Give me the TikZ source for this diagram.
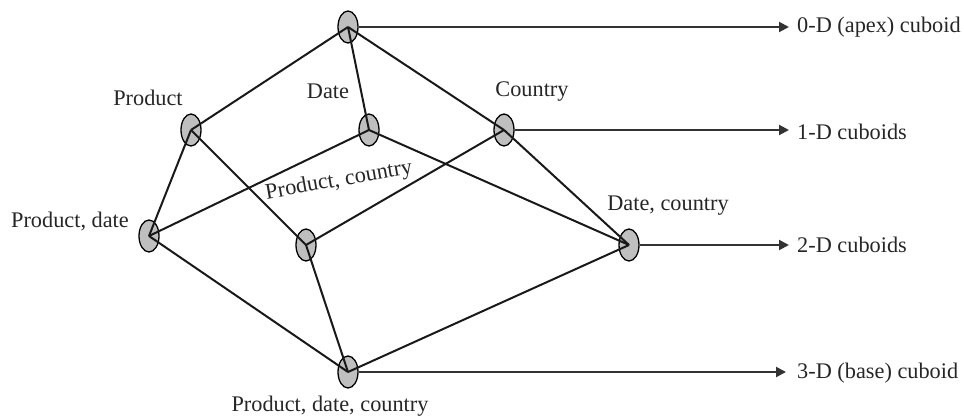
\documentclass[tikz,border=0pt]{standalone}
\usepackage{fontspec}
\setmainfont{Liberation Serif}
\usetikzlibrary{arrows.meta,shapes.geometric}
\tikzset{
    vertex/.style={ellipse,draw,fill=gray!50,minimum width=20pt,minimum height=32pt,inner sep=0pt,line width=1.3pt},
    edge/.style={-, draw=black!90, line width=2pt},
    level/.style={->,> = {Triangle[length=10pt,width=10pt]}, draw=black!80, line width=2pt},
    lbl/.style={font=\fontsize{22.3}{26}\selectfont, text=black!85, inner sep=0pt},
}
\begin{document}
\begin{tikzpicture}[x=1pt,y=-1pt]
    \useasboundingbox (0,0) rectangle (964,418);
    \node[vertex] (0) at (348,27) {};
    \node[vertex] (p) at (191,130) {};
    \node[vertex] (d) at (369,130) {};
    \node[vertex] (c) at (504,130) {};
    \node[vertex] (pd) at (149,236) {};
    \node[vertex] (pc) at (306,245) {};
    \node[vertex] (dc) at (629,245) {};
    \node[vertex] (pdc) at (348,372) {};
    \draw[edge] (0.center) --(p.center);
    \draw[edge] (0.center) --(d.center);
    \draw[edge] (0.center) --(c.center);
    \draw[edge] (p.center) --(pd.center);
    \draw[edge] (p.center) --(pc.center);
    \draw[edge] (d.center) --(pd.center);
    \draw[edge] (d.center) --(dc.center);
    \draw[edge] (c.center) --(pc.center);
    \draw[edge] (c.center) --(dc.center);
    \draw[edge] (pd.center) --(pdc.center);
    \draw[edge] (pc.center) --(pdc.center);
    \draw[edge] (dc.center) --(pdc.center);
    \node[lbl] (lp) at (148,98) {Product};
    \node[lbl] (ld) at (328,91) {Date};
    \node[lbl] (lc) at (532,92) {Country};
    \node[lbl,rotate=10] (lpc) at (339,181) {Product, country};
    \node[lbl] (lpd) at (70,221) {Product, date};
    \node[lbl] (ldc) at (668,206) {Date, country};
    \node[lbl] (lpdc) at (330,406) {Product, date, country};
    \coordinate (e0) at (789,27);
    \coordinate (e1) at (789,130);
    \coordinate (e2) at (789,245);
    \coordinate (e3) at (786,372);
    \draw[level] (0.east) --(e0);
    \draw[level] (c.east) --(e1);
    \draw[level] (dc.east) --(e2);
    \draw[level] (pdc.east) --(e3);
    \node[lbl,anchor=west] (k0) at (797,27) {0-D (apex) cuboid};
    \node[lbl,anchor=west] (k1) at (797,132) {1-D cuboids};
    \node[lbl,anchor=west] (k2) at (797,245) {2-D cuboids};
    \node[lbl,anchor=west] (k3) at (797,373) {3-D (base) cuboid};
\end{tikzpicture}
\end{document}
